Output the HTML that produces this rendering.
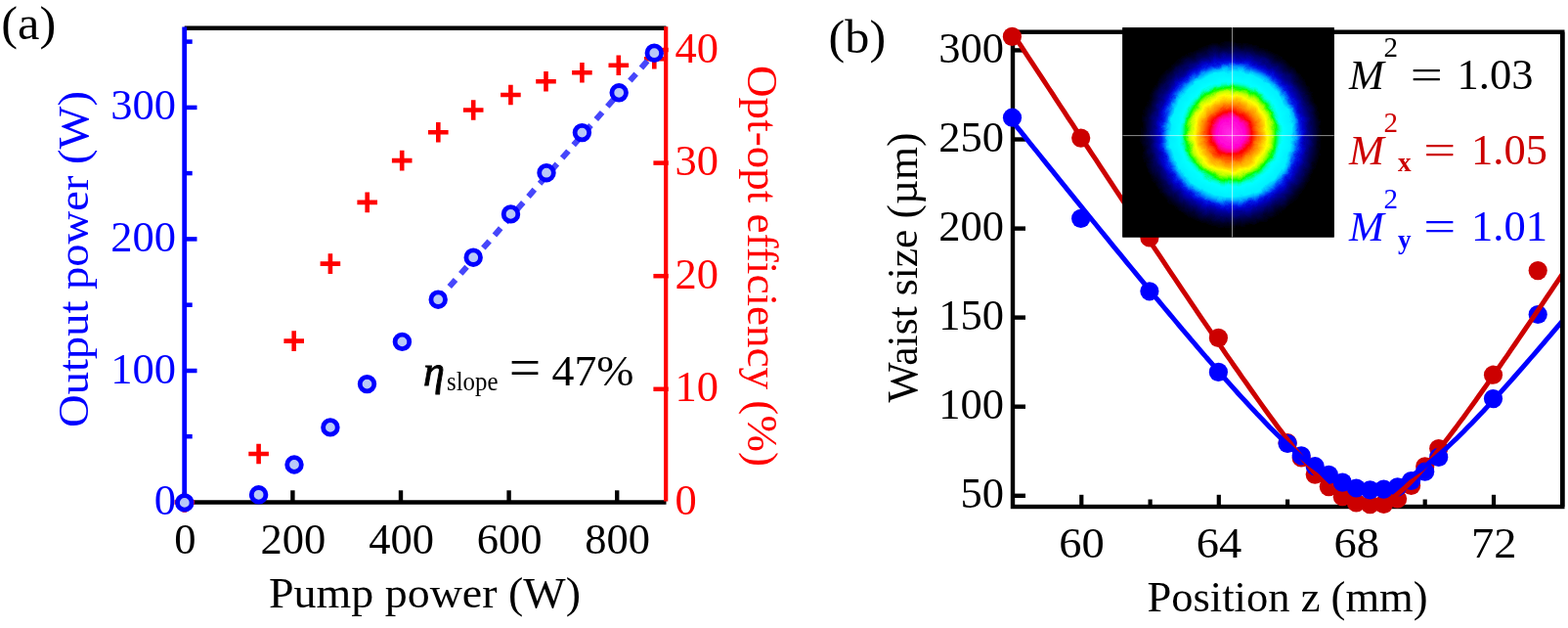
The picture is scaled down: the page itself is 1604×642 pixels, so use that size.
<!DOCTYPE html>
<html><head><meta charset="utf-8"><title>Figure</title>
<style>html,body{margin:0;padding:0;background:#fff;}svg{display:block;}text{font-family:"Liberation Serif", serif;}</style>
</head><body>
<svg width="1604" height="642" viewBox="0 0 1604 642">
<rect width="1604" height="642" fill="#ffffff"/>
<line x1="188.7" y1="28.7" x2="681.5" y2="28.7" stroke="#000" stroke-width="4.5"/>
<line x1="188.7" y1="513.5" x2="681.5" y2="513.5" stroke="#000" stroke-width="4.5"/>
<line x1="299.4" y1="513.5" x2="299.4" y2="501.3" stroke="#000" stroke-width="4.4"/>
<line x1="410.0" y1="513.5" x2="410.0" y2="501.3" stroke="#000" stroke-width="4.4"/>
<line x1="520.6" y1="513.5" x2="520.6" y2="501.3" stroke="#000" stroke-width="4.4"/>
<line x1="631.2" y1="513.5" x2="631.2" y2="501.3" stroke="#000" stroke-width="4.4"/>
<path d="M178.5 513.5H199.1M188.8 503.2V523.8" stroke="#ff0000" stroke-width="4.6" fill="none"/>
<path d="M254.3 464.0H274.9M264.6 453.7V474.3" stroke="#ff0000" stroke-width="4.6" fill="none"/>
<path d="M290.4 348.6H311.0M300.7 338.3V358.9" stroke="#ff0000" stroke-width="4.6" fill="none"/>
<path d="M327.6 269.6H348.2M337.9 259.3V279.9" stroke="#ff0000" stroke-width="4.6" fill="none"/>
<path d="M365.4 206.9H386.0M375.7 196.6V217.2" stroke="#ff0000" stroke-width="4.6" fill="none"/>
<path d="M400.9 164.1H421.5M411.2 153.8V174.4" stroke="#ff0000" stroke-width="4.6" fill="none"/>
<path d="M438.0 135.2H458.6M448.3 124.9V145.5" stroke="#ff0000" stroke-width="4.6" fill="none"/>
<path d="M473.9 112.5H494.5M484.2 102.2V122.8" stroke="#ff0000" stroke-width="4.6" fill="none"/>
<path d="M512.1 97.0H532.7M522.4 86.7V107.3" stroke="#ff0000" stroke-width="4.6" fill="none"/>
<path d="M548.2 83.2H568.8M558.5 72.9V93.5" stroke="#ff0000" stroke-width="4.6" fill="none"/>
<path d="M585.1 74.2H605.7M595.4 63.9V84.5" stroke="#ff0000" stroke-width="4.6" fill="none"/>
<path d="M622.5 66.8H643.1M632.8 56.5V77.1" stroke="#ff0000" stroke-width="4.6" fill="none"/>
<path d="M659.0 60.2H679.6M669.3 49.9V70.5" stroke="#ff0000" stroke-width="4.6" fill="none"/>
<line x1="681.2" y1="27.2" x2="681.2" y2="512.5" stroke="#ff0000" stroke-width="4.2"/>
<line x1="668.4000000000001" y1="397.8" x2="683.7" y2="397.8" stroke="#ff0000" stroke-width="4.5"/>
<line x1="668.4000000000001" y1="282.2" x2="683.7" y2="282.2" stroke="#ff0000" stroke-width="4.5"/>
<line x1="668.4000000000001" y1="166.6" x2="683.7" y2="166.6" stroke="#ff0000" stroke-width="4.5"/>
<line x1="668.4000000000001" y1="51.0" x2="683.7" y2="51.0" stroke="#ff0000" stroke-width="4.5"/>
<line x1="188.7" y1="27.5" x2="188.7" y2="515.5" stroke="#0000ff" stroke-width="4.8"/>
<line x1="188.7" y1="446.2" x2="196.7" y2="446.2" stroke="#0000ff" stroke-width="4.5"/>
<line x1="188.7" y1="379.0" x2="201.5" y2="379.0" stroke="#0000ff" stroke-width="4.5"/>
<line x1="188.7" y1="311.7" x2="196.7" y2="311.7" stroke="#0000ff" stroke-width="4.5"/>
<line x1="188.7" y1="244.4" x2="201.5" y2="244.4" stroke="#0000ff" stroke-width="4.5"/>
<line x1="188.7" y1="177.1" x2="196.7" y2="177.1" stroke="#0000ff" stroke-width="4.5"/>
<line x1="188.7" y1="109.9" x2="201.5" y2="109.9" stroke="#0000ff" stroke-width="4.5"/>
<line x1="188.7" y1="42.6" x2="196.7" y2="42.6" stroke="#0000ff" stroke-width="4.5"/>
<line x1="448.2" y1="306.2" x2="669.3" y2="54.2" stroke="#4646fb" stroke-width="6" stroke-dasharray="9.5 8"/>
<circle cx="188.8" cy="513.9" r="7.3" fill="#b9c9f7" stroke="#0000ff" stroke-width="4.8"/>
<circle cx="264.6" cy="505.8" r="7.3" fill="#b9c9f7" stroke="#0000ff" stroke-width="4.8"/>
<circle cx="301" cy="475" r="7.3" fill="#b9c9f7" stroke="#0000ff" stroke-width="4.8"/>
<circle cx="337.9" cy="436.9" r="7.3" fill="#b9c9f7" stroke="#0000ff" stroke-width="4.8"/>
<circle cx="375.5" cy="392.6" r="7.3" fill="#b9c9f7" stroke="#0000ff" stroke-width="4.8"/>
<circle cx="411.4" cy="349.4" r="7.3" fill="#b9c9f7" stroke="#0000ff" stroke-width="4.8"/>
<circle cx="448.2" cy="306.2" r="7.3" fill="#b9c9f7" stroke="#0000ff" stroke-width="4.8"/>
<circle cx="484.2" cy="263.2" r="7.3" fill="#b9c9f7" stroke="#0000ff" stroke-width="4.8"/>
<circle cx="522.5" cy="218.9" r="7.3" fill="#b9c9f7" stroke="#0000ff" stroke-width="4.8"/>
<circle cx="559" cy="176.7" r="7.3" fill="#b9c9f7" stroke="#0000ff" stroke-width="4.8"/>
<circle cx="595.4" cy="135.6" r="7.3" fill="#b9c9f7" stroke="#0000ff" stroke-width="4.8"/>
<circle cx="633.2" cy="94.8" r="7.3" fill="#b9c9f7" stroke="#0000ff" stroke-width="4.8"/>
<circle cx="669.3" cy="54.2" r="7.3" fill="#b9c9f7" stroke="#0000ff" stroke-width="4.8"/>
<text x="180" y="526.0" font-size="44.5" fill="#0000ff" text-anchor="end">0</text>
<text x="180" y="391.5" font-size="44.5" fill="#0000ff" text-anchor="end">100</text>
<text x="180" y="256.9" font-size="44.5" fill="#0000ff" text-anchor="end">200</text>
<text x="180" y="122.4" font-size="44.5" fill="#0000ff" text-anchor="end">300</text>
<text x="690.6" y="525.9" font-size="44.5" fill="#ff0000">0</text>
<text x="690.6" y="410.3" font-size="44.5" fill="#ff0000">10</text>
<text x="690.6" y="294.7" font-size="44.5" fill="#ff0000">20</text>
<text x="690.6" y="179.1" font-size="44.5" fill="#ff0000">30</text>
<text x="690.6" y="63.5" font-size="44.5" fill="#ff0000">40</text>
<text x="189.3" y="565.6" font-size="44.5" fill="#000" text-anchor="middle">0</text>
<text x="299.9" y="565.6" font-size="44.5" fill="#000" text-anchor="middle">200</text>
<text x="410.5" y="565.6" font-size="44.5" fill="#000" text-anchor="middle">400</text>
<text x="521.1" y="565.6" font-size="44.5" fill="#000" text-anchor="middle">600</text>
<text x="631.7" y="565.6" font-size="44.5" fill="#000" text-anchor="middle">800</text>
<text x="275" y="621.3" font-size="44" fill="#000" textLength="319" lengthAdjust="spacingAndGlyphs">Pump power (W)</text>
<text transform="translate(90,437) rotate(-90)" font-size="44" fill="#0000ff" textLength="344" lengthAdjust="spacingAndGlyphs">Output power (W)</text>
<text transform="translate(764.5,67) rotate(90)" font-size="44" fill="#ff0000" textLength="410" lengthAdjust="spacingAndGlyphs">Opt-opt efficiency (%)</text>
<text x="1.3" y="39.6" font-size="49" fill="#000" textLength="56" lengthAdjust="spacingAndGlyphs">(a)</text>
<text x="433" y="393.5" font-size="44" font-style="italic" fill="#000" stroke="#000" stroke-width="0.9">η</text>
<text x="457" y="398.7" font-size="27" fill="#000" textLength="52.5" lengthAdjust="spacingAndGlyphs">slope</text>
<text x="520.8" y="394.8" font-size="56" fill="#000" textLength="32.5" lengthAdjust="spacingAndGlyphs">=</text>
<text x="564.5" y="393.5" font-size="44.5" fill="#000" textLength="84" lengthAdjust="spacingAndGlyphs">47%</text>
<defs><clipPath id="cb"><rect x="1036.0" y="32.7" width="562.3" height="485.3"/></clipPath>
<radialGradient id="beam" gradientUnits="userSpaceOnUse" cx="1259.5" cy="137.8" r="96" fx="1258.8" fy="136" gradientTransform="translate(0,137.8) scale(1,1.03) translate(0,-137.8)">
<stop offset="0.0000" stop-color="#ff30e8"/>
<stop offset="0.1510" stop-color="#ff00d0"/>
<stop offset="0.1927" stop-color="#ff0070"/>
<stop offset="0.2240" stop-color="#ff0000"/>
<stop offset="0.2604" stop-color="#ff4000"/>
<stop offset="0.3021" stop-color="#ff8800"/>
<stop offset="0.3490" stop-color="#ffc000"/>
<stop offset="0.3958" stop-color="#ffff00"/>
<stop offset="0.4323" stop-color="#c0ff00"/>
<stop offset="0.4583" stop-color="#60ff00"/>
<stop offset="0.4792" stop-color="#00ff00"/>
<stop offset="0.5000" stop-color="#00ff70"/>
<stop offset="0.5208" stop-color="#00ffd0"/>
<stop offset="0.5469" stop-color="#00ffff"/>
<stop offset="0.6458" stop-color="#00f0ff"/>
<stop offset="0.6823" stop-color="#00b0ff"/>
<stop offset="0.7135" stop-color="#0058f8"/>
<stop offset="0.7396" stop-color="#0018e8"/>
<stop offset="0.7708" stop-color="#0000c8"/>
<stop offset="0.8125" stop-color="#000090"/>
<stop offset="0.8646" stop-color="#000058"/>
<stop offset="0.9167" stop-color="#000028"/>
<stop offset="0.9688" stop-color="#000000"/>
<stop offset="1.0000" stop-color="#000000"/>
</radialGradient>
<filter id="wob" x="0" y="0" width="1" height="1" filterUnits="objectBoundingBox"><feTurbulence type="fractalNoise" baseFrequency="0.11" numOctaves="2" seed="7" result="n"/><feDisplacementMap in="SourceGraphic" in2="n" scale="5" xChannelSelector="R" yChannelSelector="G"/></filter>
<clipPath id="ci"><rect x="1148.3" y="28.2" width="216.4" height="214.3"/></clipPath></defs>
<rect x="1036.0" y="32.7" width="562.3" height="485.3" fill="none" stroke="#000" stroke-width="4.4"/>
<line x1="1036.0" y1="506.8" x2="1049.0" y2="506.8" stroke="#000" stroke-width="4.4"/>
<line x1="1036.0" y1="415.7" x2="1049.0" y2="415.7" stroke="#000" stroke-width="4.4"/>
<line x1="1036.0" y1="324.6" x2="1049.0" y2="324.6" stroke="#000" stroke-width="4.4"/>
<line x1="1036.0" y1="233.6" x2="1049.0" y2="233.6" stroke="#000" stroke-width="4.4"/>
<line x1="1036.0" y1="142.5" x2="1049.0" y2="142.5" stroke="#000" stroke-width="4.4"/>
<line x1="1036.0" y1="51.4" x2="1049.0" y2="51.4" stroke="#000" stroke-width="4.4"/>
<line x1="1106.3" y1="518.0" x2="1106.3" y2="505.8" stroke="#000" stroke-width="4.2"/>
<line x1="1176.6" y1="518.0" x2="1176.6" y2="510.5" stroke="#000" stroke-width="4.2"/>
<line x1="1246.8" y1="518.0" x2="1246.8" y2="505.8" stroke="#000" stroke-width="4.2"/>
<line x1="1317.1" y1="518.0" x2="1317.1" y2="510.5" stroke="#000" stroke-width="4.2"/>
<line x1="1387.4" y1="518.0" x2="1387.4" y2="505.8" stroke="#000" stroke-width="4.2"/>
<line x1="1457.7" y1="518.0" x2="1457.7" y2="510.5" stroke="#000" stroke-width="4.2"/>
<line x1="1528.0" y1="518.0" x2="1528.0" y2="505.8" stroke="#000" stroke-width="4.2"/>
<circle cx="1035.4" cy="37.4" r="9.6" fill="#cc0000"/>
<circle cx="1105.7" cy="141.1" r="9.6" fill="#cc0000"/>
<circle cx="1175.9" cy="243.0" r="9.6" fill="#cc0000"/>
<circle cx="1246.4" cy="345.4" r="9.6" fill="#cc0000"/>
<circle cx="1317.1" cy="452.7" r="9.6" fill="#cc0000"/>
<circle cx="1331.2" cy="468.0" r="9.6" fill="#cc0000"/>
<circle cx="1345.2" cy="485.1" r="9.6" fill="#cc0000"/>
<circle cx="1359.3" cy="497.6" r="9.6" fill="#cc0000"/>
<circle cx="1373.3" cy="507.7" r="9.6" fill="#cc0000"/>
<circle cx="1387.4" cy="514.0" r="9.6" fill="#cc0000"/>
<circle cx="1401.5" cy="515.7" r="9.6" fill="#cc0000"/>
<circle cx="1415.5" cy="515.4" r="9.6" fill="#cc0000"/>
<circle cx="1429.6" cy="510.0" r="9.6" fill="#cc0000"/>
<circle cx="1443.6" cy="496.4" r="9.6" fill="#cc0000"/>
<circle cx="1457.7" cy="476.9" r="9.6" fill="#cc0000"/>
<circle cx="1471.7" cy="458.5" r="9.6" fill="#cc0000"/>
<circle cx="1527.5" cy="383.2" r="9.6" fill="#cc0000"/>
<circle cx="1573.2" cy="276.6" r="9.6" fill="#cc0000"/>
<circle cx="1035.5" cy="120.2" r="9.6" fill="#0000ff"/>
<circle cx="1105.7" cy="223.4" r="9.6" fill="#0000ff"/>
<circle cx="1175.9" cy="297.8" r="9.6" fill="#0000ff"/>
<circle cx="1246.4" cy="380.4" r="9.6" fill="#0000ff"/>
<circle cx="1317.1" cy="453.4" r="9.6" fill="#0000ff"/>
<circle cx="1331.2" cy="465.8" r="9.6" fill="#0000ff"/>
<circle cx="1345.2" cy="476.7" r="9.6" fill="#0000ff"/>
<circle cx="1359.3" cy="485.3" r="9.6" fill="#0000ff"/>
<circle cx="1373.3" cy="493.1" r="9.6" fill="#0000ff"/>
<circle cx="1387.4" cy="499.0" r="9.6" fill="#0000ff"/>
<circle cx="1401.5" cy="500.9" r="9.6" fill="#0000ff"/>
<circle cx="1415.5" cy="500.1" r="9.6" fill="#0000ff"/>
<circle cx="1429.6" cy="497.8" r="9.6" fill="#0000ff"/>
<circle cx="1443.6" cy="491.5" r="9.6" fill="#0000ff"/>
<circle cx="1457.7" cy="482.2" r="9.6" fill="#0000ff"/>
<circle cx="1471.7" cy="467.4" r="9.6" fill="#0000ff"/>
<circle cx="1527.5" cy="407.6" r="9.6" fill="#0000ff"/>
<circle cx="1573.2" cy="321.5" r="9.6" fill="#0000ff"/>
<g clip-path="url(#cb)" fill="none" stroke-width="5" stroke-linejoin="round">
<path d="M1036.0 34.1 L1040.0 40.3 L1044.1 46.4 L1048.1 52.6 L1052.2 58.8 L1056.2 64.9 L1060.3 71.1 L1064.3 77.2 L1068.4 83.4 L1072.4 89.5 L1076.5 95.7 L1080.5 101.8 L1084.5 108.0 L1088.6 114.1 L1092.6 120.3 L1096.7 126.4 L1100.7 132.6 L1104.8 138.7 L1108.8 144.8 L1112.9 151.0 L1116.9 157.1 L1121.0 163.2 L1125.0 169.3 L1129.0 175.4 L1133.1 181.6 L1137.1 187.7 L1141.2 193.8 L1145.2 199.9 L1149.3 206.0 L1153.3 212.1 L1157.4 218.2 L1161.4 224.3 L1165.5 230.4 L1169.5 236.4 L1173.5 242.5 L1177.6 248.6 L1181.6 254.6 L1185.7 260.7 L1189.7 266.7 L1193.8 272.8 L1197.8 278.8 L1201.9 284.8 L1205.9 290.9 L1209.9 296.9 L1214.0 302.9 L1218.0 308.9 L1222.1 314.9 L1226.1 320.8 L1230.2 326.8 L1234.2 332.7 L1238.3 338.7 L1242.3 344.6 L1246.4 350.5 L1250.4 356.4 L1254.4 362.3 L1258.5 368.1 L1262.5 374.0 L1266.6 379.8 L1270.6 385.6 L1274.7 391.3 L1278.7 397.0 L1282.8 402.8 L1286.8 408.4 L1290.9 414.1 L1294.9 419.7 L1298.9 425.2 L1303.0 430.7 L1307.0 436.2 L1311.1 441.6 L1315.1 446.9 L1319.2 452.1 L1323.2 457.3 L1327.3 462.4 L1331.3 467.4 L1335.4 472.3 L1339.4 477.0 L1343.4 481.7 L1347.5 486.1 L1351.5 490.4 L1355.6 494.5 L1359.6 498.4 L1363.7 502.0 L1367.7 505.3 L1371.8 508.4 L1375.8 511.0 L1379.9 513.4 L1383.9 515.3 L1387.9 516.7 L1392.0 517.8 L1396.0 518.3 L1400.1 518.3 L1404.1 517.9 L1408.2 517.0 L1412.2 515.6 L1416.3 513.8 L1420.3 511.6 L1424.4 509.0 L1428.4 506.0 L1432.4 502.7 L1436.5 499.2 L1440.5 495.4 L1444.6 491.3 L1448.6 487.1 L1452.7 482.7 L1456.7 478.1 L1460.8 473.3 L1464.8 468.5 L1468.8 463.5 L1472.9 458.4 L1476.9 453.3 L1481.0 448.0 L1485.0 442.7 L1489.1 437.4 L1493.1 431.9 L1497.2 426.4 L1501.2 420.9 L1505.3 415.3 L1509.3 409.7 L1513.3 404.0 L1517.4 398.3 L1521.4 392.6 L1525.5 386.8 L1529.5 381.0 L1533.6 375.2 L1537.6 369.4 L1541.7 363.6 L1545.7 357.7 L1549.8 351.8 L1553.8 345.9 L1557.8 340.0 L1561.9 334.0 L1565.9 328.1 L1570.0 322.1 L1574.0 316.2 L1578.1 310.2 L1582.1 304.2 L1586.2 298.2 L1590.2 292.2 L1594.3 286.2 L1598.3 280.1" stroke="#cc0000"/>
<path d="M1036.0 124.3 L1040.0 129.4 L1044.1 134.4 L1048.1 139.4 L1052.2 144.5 L1056.2 149.5 L1060.3 154.5 L1064.3 159.5 L1068.4 164.6 L1072.4 169.6 L1076.5 174.6 L1080.5 179.6 L1084.5 184.6 L1088.6 189.6 L1092.6 194.6 L1096.7 199.6 L1100.7 204.6 L1104.8 209.6 L1108.8 214.6 L1112.9 219.5 L1116.9 224.5 L1121.0 229.5 L1125.0 234.5 L1129.0 239.4 L1133.1 244.4 L1137.1 249.3 L1141.2 254.3 L1145.2 259.2 L1149.3 264.1 L1153.3 269.1 L1157.4 274.0 L1161.4 278.9 L1165.5 283.8 L1169.5 288.7 L1173.5 293.6 L1177.6 298.4 L1181.6 303.3 L1185.7 308.2 L1189.7 313.0 L1193.8 317.8 L1197.8 322.7 L1201.9 327.5 L1205.9 332.3 L1209.9 337.1 L1214.0 341.8 L1218.0 346.6 L1222.1 351.3 L1226.1 356.1 L1230.2 360.8 L1234.2 365.5 L1238.3 370.1 L1242.3 374.8 L1246.4 379.4 L1250.4 384.0 L1254.4 388.6 L1258.5 393.2 L1262.5 397.7 L1266.6 402.2 L1270.6 406.6 L1274.7 411.0 L1278.7 415.4 L1282.8 419.8 L1286.8 424.1 L1290.9 428.3 L1294.9 432.5 L1298.9 436.7 L1303.0 440.8 L1307.0 444.8 L1311.1 448.7 L1315.1 452.6 L1319.2 456.4 L1323.2 460.1 L1327.3 463.8 L1331.3 467.3 L1335.4 470.7 L1339.4 474.0 L1343.4 477.1 L1347.5 480.1 L1351.5 483.0 L1355.6 485.7 L1359.6 488.2 L1363.7 490.5 L1367.7 492.7 L1371.8 494.6 L1375.8 496.3 L1379.9 497.7 L1383.9 499.0 L1387.9 499.9 L1392.0 500.6 L1396.0 501.0 L1400.1 501.2 L1404.1 501.1 L1408.2 500.7 L1412.2 500.0 L1416.3 499.1 L1420.3 497.9 L1424.4 496.5 L1428.4 494.8 L1432.4 492.9 L1436.5 490.8 L1440.5 488.5 L1444.6 486.0 L1448.6 483.3 L1452.7 480.4 L1456.7 477.4 L1460.8 474.3 L1464.8 471.0 L1468.8 467.6 L1472.9 464.1 L1476.9 460.5 L1481.0 456.8 L1485.0 453.0 L1489.1 449.2 L1493.1 445.2 L1497.2 441.2 L1501.2 437.1 L1505.3 433.0 L1509.3 428.8 L1513.3 424.5 L1517.4 420.3 L1521.4 415.9 L1525.5 411.5 L1529.5 407.1 L1533.6 402.7 L1537.6 398.2 L1541.7 393.6 L1545.7 389.1 L1549.8 384.5 L1553.8 379.9 L1557.8 375.3 L1561.9 370.7 L1565.9 366.0 L1570.0 361.3 L1574.0 356.6 L1578.1 351.9 L1582.1 347.1 L1586.2 342.4 L1590.2 337.6 L1594.3 332.8 L1598.3 328.0" stroke="#0000ff"/>
</g>
<line x1="1598.3" y1="32.7" x2="1598.3" y2="518.0" stroke="#000" stroke-width="4.4"/>
<rect x="1148.3" y="28.2" width="216.4" height="214.3" fill="#000"/>
<g clip-path="url(#ci)"><rect x="1140" y="20" width="233" height="231" fill="url(#beam)" filter="url(#wob)"/></g>
<line x1="1148.5" y1="138.6" x2="1364.7" y2="138.6" stroke="#ffffff" stroke-opacity="0.55" stroke-width="1"/>
<line x1="1260.5" y1="28" x2="1260.5" y2="242.4" stroke="#ffffff" stroke-opacity="0.55" stroke-width="1"/>
<text x="1027" y="519.3" font-size="44.5" fill="#000" text-anchor="end">50</text>
<text x="1027" y="428.2" font-size="44.5" fill="#000" text-anchor="end">100</text>
<text x="1027" y="337.1" font-size="44.5" fill="#000" text-anchor="end">150</text>
<text x="1027" y="246.1" font-size="44.5" fill="#000" text-anchor="end">200</text>
<text x="1027" y="155.0" font-size="44.5" fill="#000" text-anchor="end">250</text>
<text x="1027" y="63.9" font-size="44.5" fill="#000" text-anchor="end">300</text>
<text x="1106.6" y="570.4" font-size="44.5" fill="#000" text-anchor="middle" textLength="46.5" lengthAdjust="spacingAndGlyphs">60</text>
<text x="1247.1" y="570.4" font-size="44.5" fill="#000" text-anchor="middle" textLength="46.5" lengthAdjust="spacingAndGlyphs">64</text>
<text x="1387.7" y="570.4" font-size="44.5" fill="#000" text-anchor="middle" textLength="46.5" lengthAdjust="spacingAndGlyphs">68</text>
<text x="1528.3" y="570.4" font-size="44.5" fill="#000" text-anchor="middle" textLength="46.5" lengthAdjust="spacingAndGlyphs">72</text>
<text x="1173.5" y="625" font-size="44" fill="#000" textLength="287" lengthAdjust="spacingAndGlyphs">Position z (mm)</text>
<text transform="translate(937.8,411.5) rotate(-90)" font-size="44" fill="#000" textLength="276" lengthAdjust="spacingAndGlyphs">Waist size (µm)</text>
<text x="847.6" y="53.6" font-size="49" fill="#000" textLength="58.5" lengthAdjust="spacingAndGlyphs">(b)</text>
<text x="1380" y="90.8" font-size="43" font-style="italic" fill="#000">M</text>
<text x="1415.5" y="57.6" font-size="29" fill="#000">2</text>
<text x="1442.7" y="90.8" font-size="44.5" fill="#000" textLength="33" lengthAdjust="spacingAndGlyphs">=</text>
<text x="1490.5" y="90.8" font-size="44.5" fill="#000">1.03</text>
<text x="1380" y="168.3" font-size="43" font-style="italic" fill="#cc0000">M</text>
<text x="1415.5" y="135.1" font-size="29" fill="#cc0000">2</text>
<text x="1430" y="175.0" font-size="27" font-weight="bold" fill="#cc0000">x</text>
<text x="1456.2" y="168.3" font-size="44.5" fill="#cc0000" textLength="33" lengthAdjust="spacingAndGlyphs">=</text>
<text x="1505" y="168.3" font-size="44.5" fill="#cc0000">1.05</text>
<text x="1380" y="246.2" font-size="43" font-style="italic" fill="#0000ff">M</text>
<text x="1415.5" y="213.0" font-size="29" fill="#0000ff">2</text>
<text x="1430" y="253.6" font-size="27" font-weight="bold" fill="#0000ff">y</text>
<text x="1456.2" y="246.2" font-size="44.5" fill="#0000ff" textLength="33" lengthAdjust="spacingAndGlyphs">=</text>
<text x="1505" y="246.2" font-size="44.5" fill="#0000ff">1.01</text>
</svg></body></html>
